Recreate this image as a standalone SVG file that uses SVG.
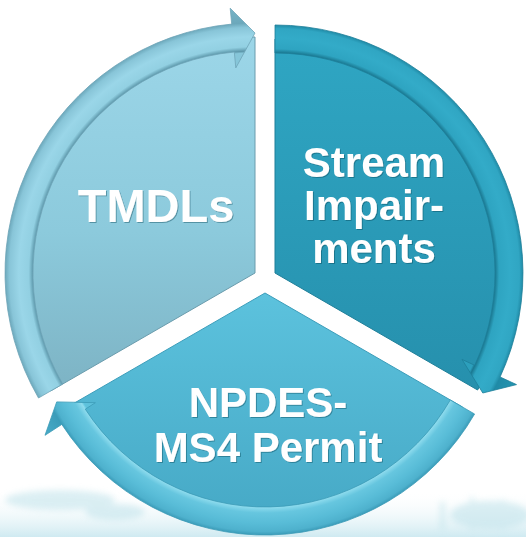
<svg xmlns="http://www.w3.org/2000/svg" width="526" height="537" viewBox="0 0 526 537">
  <defs>
    <style>
      .label { font-family: "Liberation Sans", Arial, sans-serif; font-weight: bold; fill: #ffffff; text-anchor: middle; filter: url(#txtShadow); }
      .rim { stroke-width: 0.8; }
    </style>
    <filter id="txtShadow" x="-10%" y="-20%" width="120%" height="150%">
      <feDropShadow dx="1" dy="1" stdDeviation="0.6" flood-color="#0b3f50" flood-opacity="0.4"/>
    </filter>
    <filter id="haze" x="-20%" y="-50%" width="140%" height="200%">
      <feGaussianBlur stdDeviation="3"/>
    </filter>

    <!-- sector faces -->
    <linearGradient id="faceTmdls" x1="0" y1="0" x2="0" y2="1">
      <stop offset="0" stop-color="#9cd6e8"/>
      <stop offset="0.55" stop-color="#8ccadc"/>
      <stop offset="1" stop-color="#7db3c4"/>
    </linearGradient>
    <linearGradient id="faceStream" x1="0" y1="0" x2="0" y2="1">
      <stop offset="0" stop-color="#2fa6c3"/>
      <stop offset="1" stop-color="#2690ad"/>
    </linearGradient>
    <linearGradient id="faceNpdes" x1="0" y1="0" x2="0" y2="1">
      <stop offset="0" stop-color="#5cc2dd"/>
      <stop offset="1" stop-color="#46a9c6"/>
    </linearGradient>

    <!-- tube shading of the rim arrows, centred on each sector apex -->
    <radialGradient id="bandTmdls" gradientUnits="userSpaceOnUse" cx="255" cy="273" r="270">
      <stop offset="0.76" stop-color="#86c6d9"/>
      <stop offset="0.815" stop-color="#86c6d9"/>
      <stop offset="0.822" stop-color="#5d98ab"/>
      <stop offset="0.838" stop-color="#92d0e2"/>
      <stop offset="0.875" stop-color="#9ad6e8"/>
      <stop offset="0.91" stop-color="#88c5d8"/>
      <stop offset="0.926" stop-color="#6ca8bb"/>
      <stop offset="1" stop-color="#78b6c9"/>
    </radialGradient>
    <radialGradient id="bandStream" gradientUnits="userSpaceOnUse" cx="275" cy="273" r="270">
      <stop offset="0.76" stop-color="#2c9fbc"/>
      <stop offset="0.807" stop-color="#2c9fbc"/>
      <stop offset="0.815" stop-color="#1a7891"/>
      <stop offset="0.83" stop-color="#2ea4c1"/>
      <stop offset="0.87" stop-color="#33abc8"/>
      <stop offset="0.905" stop-color="#30a6c3"/>
      <stop offset="0.919" stop-color="#1f8aa6"/>
      <stop offset="1" stop-color="#2797b3"/>
    </radialGradient>
    <radialGradient id="bandNpdes" gradientUnits="userSpaceOnUse" cx="265" cy="293" r="265">
      <stop offset="0.75" stop-color="#5ec2dc"/>
      <stop offset="0.8" stop-color="#5ec2dc"/>
      <stop offset="0.808" stop-color="#8fdcee"/>
      <stop offset="0.83" stop-color="#66c6df"/>
      <stop offset="0.87" stop-color="#58bcd7"/>
      <stop offset="0.9" stop-color="#4eb1cd"/>
      <stop offset="0.913" stop-color="#3b9cb9"/>
      <stop offset="1" stop-color="#4aaecb"/>
    </radialGradient>

    <linearGradient id="groundFade" x1="0" y1="0" x2="0" y2="1">
      <stop offset="0" stop-color="#ffffff" stop-opacity="0"/>
      <stop offset="1" stop-color="#cfeaf1"/>
    </linearGradient>
  </defs>

  <rect width="526" height="537" fill="#ffffff"/>

  <!-- soft watery ground along the bottom edge -->
  <g id="ground">
    <rect x="0" y="490" width="526" height="47" fill="url(#groundFade)"/>
    <g filter="url(#haze)" fill="#bfe2ea" opacity="0.55">
      <ellipse cx="60" cy="500" rx="55" ry="10"/>
      <ellipse cx="115" cy="512" rx="30" ry="8"/>
      <ellipse cx="490" cy="515" rx="40" ry="14"/>
      <rect x="440" y="502" width="5" height="28"/>
      <rect x="470" y="497" width="4" height="33"/>
      <rect x="500" y="500" width="5" height="30"/>
    </g>
  </g>

  <!-- TMDLs sector -->
  <g id="node-tmdls">
    <path d="M255,273 L50.6,391 A236,236 0 0 1 255,37 Z" fill="url(#faceTmdls)" stroke="#6a9cad"/>
    <text class="label" x="156" y="222" font-size="47">TMDLs</text>
  </g>

  <!-- Stream Impairments sector -->
  <g id="node-stream">
    <path d="M275,273 L275,39 A234,234 0 0 1 477.6,390 Z" fill="url(#faceStream)" stroke="#1e7f99"/>
    <text class="label" x="374" y="177" font-size="42">Stream</text>
    <text class="label" x="374" y="220" font-size="42">Impair-</text>
    <text class="label" x="374" y="263" font-size="42">ments</text>
  </g>

  <!-- NPDES-MS4 Permit sector -->
  <g id="node-npdes">
    <path d="M265,293 L462.5,407 A228,228 0 0 1 67.5,407 Z" fill="url(#faceNpdes)" stroke="#3b9dba"/>
    <text class="label" x="268" y="417" font-size="42">NPDES-</text>
    <text class="label" x="268" y="462" font-size="42">MS4 Permit</text>
  </g>

  <!-- cycle arrows running along the rim -->
  <g id="connectors">
    <path id="arrow-tmdls-stream" class="rim" d="M38.5,398 A250,250 0 0 1 231.7,24.1 L230.2,8.2 L255,33 L235.8,67.9 L234.3,52 A222,222 0 0 0 62.7,384 Z" fill="url(#bandTmdls)" stroke="#6ea5b7"/>
    <path id="arrow-stream-npdes" class="rim" d="M275,25 A248,248 0 0 1 500.1,377 L516.5,384.6 L482.8,393 L462,359.4 L474.7,365.3 A220,220 0 0 0 275,53 Z" fill="url(#bandStream)" stroke="#1d7f99"/>
    <path id="arrow-npdes-tmdls" class="rim" d="M474.6,414 A242,242 0 0 1 61.8,424.4 L45,435.3 L56.7,401.9 L95.4,402.7 L85.3,409.2 A214,214 0 0 0 450.3,400 Z" fill="url(#bandNpdes)" stroke="#3b9ab6"/>
  </g>
</svg>
